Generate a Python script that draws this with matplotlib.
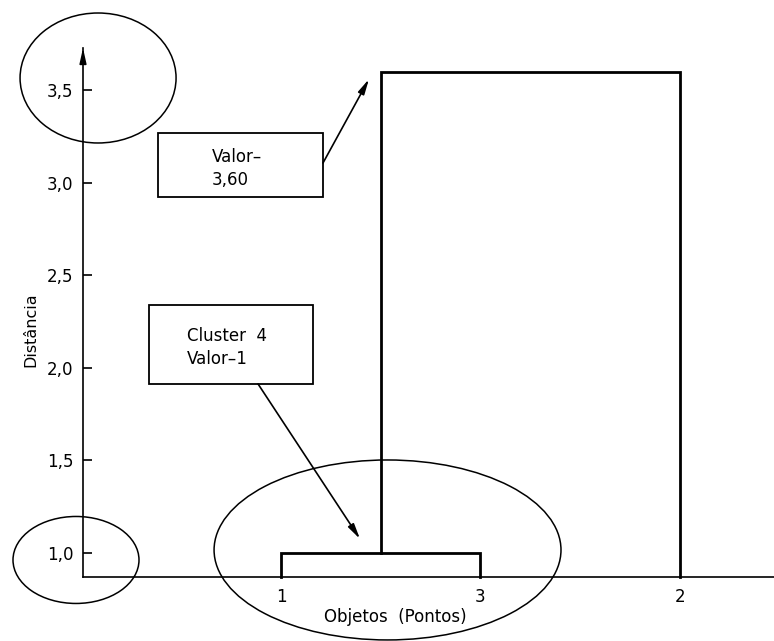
import numpy as np
import matplotlib.pyplot as plt
from matplotlib.patches import Ellipse, Rectangle

# dados do dendrograma
leaf_order = ['1', '3', '2']
leaf_pos = [0, 1, 2]
# fusoes: (no esquerdo, no direito, distancia)
merges = [(0, 1, 1.00), ('c0', 2, 3.60)]
y_ticks = [1.0, 1.5, 2.0, 2.5, 3.0, 3.5]
y_tick_labels = ['1,0', '1,5', '2,0', '2,5', '3,0', '3,5']
base = 0.87

W, H = 774, 641
fig = plt.figure(figsize=(W / 100, H / 100), dpi=100)
ax = fig.add_axes([83 / W, (H - 577) / H, (W - 83) / W, (577 - 48) / H])
ax.set_xlim(-0.9925, 2.4712)
ax.set_ylim(base, 3.727)

for s in ['top', 'right']:
    ax.spines[s].set_visible(False)
for s in ['left', 'bottom']:
    ax.spines[s].set_linewidth(1.2)

# seta no topo do eixo y
ax.annotate('', xy=(0, 1.0), xytext=(0, 0.97), xycoords='axes fraction',
            arrowprops=dict(arrowstyle='-|>,head_length=0.9,head_width=0.2',
                            color='black', lw=1.2, mutation_scale=10,
                            shrinkA=0, shrinkB=0))

ax.set_yticks(y_ticks)
ax.set_yticklabels(y_tick_labels)
ax.tick_params(axis='y', direction='in', length=6.5, width=1.2, pad=7, labelsize=12)
ax.set_xticks(leaf_pos)
ax.set_xticklabels(leaf_order)
ax.tick_params(axis='x', length=0, pad=8, labelsize=12)

ax.set_xlabel('Objetos  (Pontos)', fontsize=12)
ax.xaxis.set_label_coords(0.4515, -0.0756)
ax.xaxis.label.set_va('center')
ax.set_ylabel('Distância', fontsize=11.5)
ax.yaxis.set_label_coords(-0.0753, 0.467)
ax.yaxis.label.set_va('center')

# desenha o dendrograma
nodes = {}
for i, p in enumerate(leaf_pos):
    nodes[i] = (p, base)
for k, (a, b, d) in enumerate(merges):
    xa, ya = nodes[a]
    xb, yb = nodes[b]
    ax.plot([xa, xa, xb, xb], [ya, d, d, yb], color='black', lw=2,
            solid_joinstyle='miter', clip_on=False)
    nodes['c%d' % k] = ((xa + xb) / 2, d)

# caixas de texto
ax.add_patch(Rectangle((-0.6165, 2.922), 0.827, 0.346, fill=False, lw=1.3, clip_on=False))
ax.text(-0.346, 3.076, 'Valor\u2013\n3,60', fontsize=12, ha='left', va='center',
        linespacing=1.3)
ax.add_patch(Rectangle((-0.6617, 1.9125), 0.8221, 0.4265, fill=False, lw=1.3, clip_on=False))
ax.text(-0.471, 2.11, 'Cluster  4\nValor\u20131', fontsize=12, ha='left', va='center',
        linespacing=1.3)

arrow = dict(arrowstyle='-|>,head_length=0.9,head_width=0.2', color='black',
             lw=1.2, mutation_scale=10, shrinkA=0, shrinkB=0)
ax.annotate('', xy=(0.441, 3.559), xytext=(0.2105, 3.106), arrowprops=arrow)
ax.annotate('', xy=(0.396, 1.0756), xytext=(-0.115, 1.9125), arrowprops=arrow)

# elipses
for (cx, cy, w, h) in [(-0.917, 3.565, 0.782, 0.702),
                       (-1.0276, 0.962, 0.6316, 0.4698),
                       (0.534, 1.016, 1.739, 0.972)]:
    ax.add_patch(Ellipse((cx, cy), w, h, fill=False, lw=1.1, clip_on=False))

fig.savefig('out.png', dpi=100)
